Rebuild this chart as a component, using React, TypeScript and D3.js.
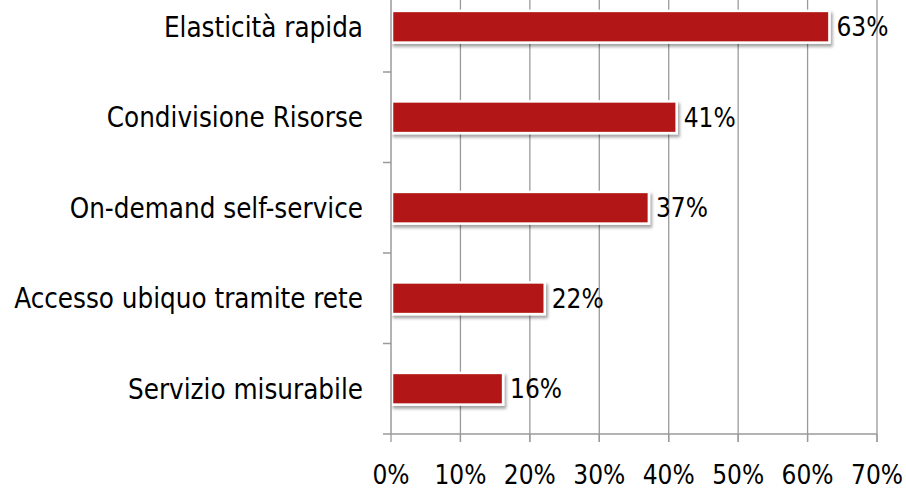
import React, { useEffect, useRef } from 'react';
import * as d3 from 'd3';

const categories = [
  'Elasticità rapida',
  'Condivisione Risorse',
  'On-demand self-service',
  'Accesso ubiquo tramite rete',
  'Servizio misurabile',
];
const values = [63, 41, 37, 22, 16];
const xTicks = [0, 10, 20, 30, 40, 50, 60, 70];

const FONT = '"Liberation Sans Narrow", "DejaVu Sans Condensed", "Liberation Sans", sans-serif';

export default function App() {
  const svgRef = useRef<SVGSVGElement>(null);

  useEffect(() => {
    if (!svgRef.current) return;
    const svg = d3.select(svgRef.current);
    svg.selectAll('*').remove();

    const x0 = 391;
    const x1 = 877;
    const yTop = -18.5;
    const yBottom = 434;

    const x = d3.scaleLinear().domain([0, 70]).range([x0, x1]);
    const y = d3.scaleBand<string>().domain(categories).range([yTop, yBottom]).paddingInner(0).paddingOuter(0);
    const barH = y.bandwidth() * 0.35;

    const defs = svg.append('defs');
    const f = defs.append('filter').attr('id', 'shadow').attr('x', '-10%').attr('y', '-30%').attr('width', '120%').attr('height', '180%');
    f.append('feDropShadow')
      .attr('dx', 2).attr('dy', 3).attr('stdDeviation', 1.6)
      .attr('flood-color', '#000').attr('flood-opacity', 0.35);

    // vertical gridlines
    svg.append('g')
      .selectAll('line')
      .data(xTicks.slice(1))
      .join('line')
      .attr('x1', d => x(d)).attr('x2', d => x(d))
      .attr('y1', yTop).attr('y2', yBottom + 8)
      .attr('stroke', '#9a9a9a').attr('stroke-width', 1.3);

    // bars
    svg.append('g')
      .selectAll('rect')
      .data(values)
      .join('rect')
      .attr('x', x(0) + 1)
      .attr('y', (_, i) => (y(categories[i]) ?? 0) + (y.bandwidth() - barH) / 2)
      .attr('width', d => x(d) - x(0))
      .attr('height', barH)
      .attr('fill', '#b31912')
      .attr('stroke', '#fff')
      .attr('stroke-width', 2.5)
      .attr('filter', 'url(#shadow)');

    // value labels
    svg.append('g')
      .selectAll('text')
      .data(values)
      .join('text')
      .attr('x', d => x(d) + 8)
      .attr('y', (_, i) => (y(categories[i]) ?? 0) + y.bandwidth() / 2)
      .attr('dy', '0.36em')
      .attr('font-family', FONT)
      .attr('font-size', 26)
      .attr('fill', '#000')
      .text(d => d + '%');

    // y axis
    const ya = svg.append('g');
    ya.append('line')
      .attr('x1', x0).attr('x2', x0).attr('y1', yTop).attr('y2', yBottom)
      .attr('stroke', '#9a9a9a').attr('stroke-width', 1.5);
    ya.selectAll('line.tick')
      .data(categories.slice(1).concat(['end']))
      .join('line')
      .attr('class', 'tick')
      .attr('x1', x0 - 8).attr('x2', x0)
      .attr('y1', (_, i) => yTop + y.step() * (i + 1))
      .attr('y2', (_, i) => yTop + y.step() * (i + 1))
      .attr('stroke', '#9a9a9a').attr('stroke-width', 1.5);
    ya.selectAll('text')
      .data(categories)
      .join('text')
      .attr('x', x0 - 28)
      .attr('y', d => (y(d) ?? 0) + y.bandwidth() / 2)
      .attr('dy', '0.36em')
      .attr('text-anchor', 'end')
      .attr('font-family', FONT)
      .attr('font-size', 27.5)
      .attr('fill', '#000')
      .text(d => d);

    // x axis
    const xa = svg.append('g');
    xa.append('line')
      .attr('x1', x0).attr('x2', x1).attr('y1', yBottom).attr('y2', yBottom)
      .attr('stroke', '#9a9a9a').attr('stroke-width', 1.5);
    xa.selectAll('line.tick')
      .data(xTicks)
      .join('line')
      .attr('class', 'tick')
      .attr('x1', d => x(d)).attr('x2', d => x(d))
      .attr('y1', yBottom).attr('y2', yBottom + 8)
      .attr('stroke', '#9a9a9a').attr('stroke-width', 1.3);
    xa.selectAll('text')
      .data(xTicks)
      .join('text')
      .attr('x', d => x(d))
      .attr('y', 484)
      .attr('text-anchor', 'middle')
      .attr('font-family', FONT)
      .attr('font-size', 26)
      .attr('fill', '#000')
      .text(d => d + '%');
  }, []);

  return (
    <svg
      ref={svgRef}
      width={906}
      height={490}
      style={{ position: 'absolute', left: 0, top: 0, background: '#fff' }}
    />
  );
}
